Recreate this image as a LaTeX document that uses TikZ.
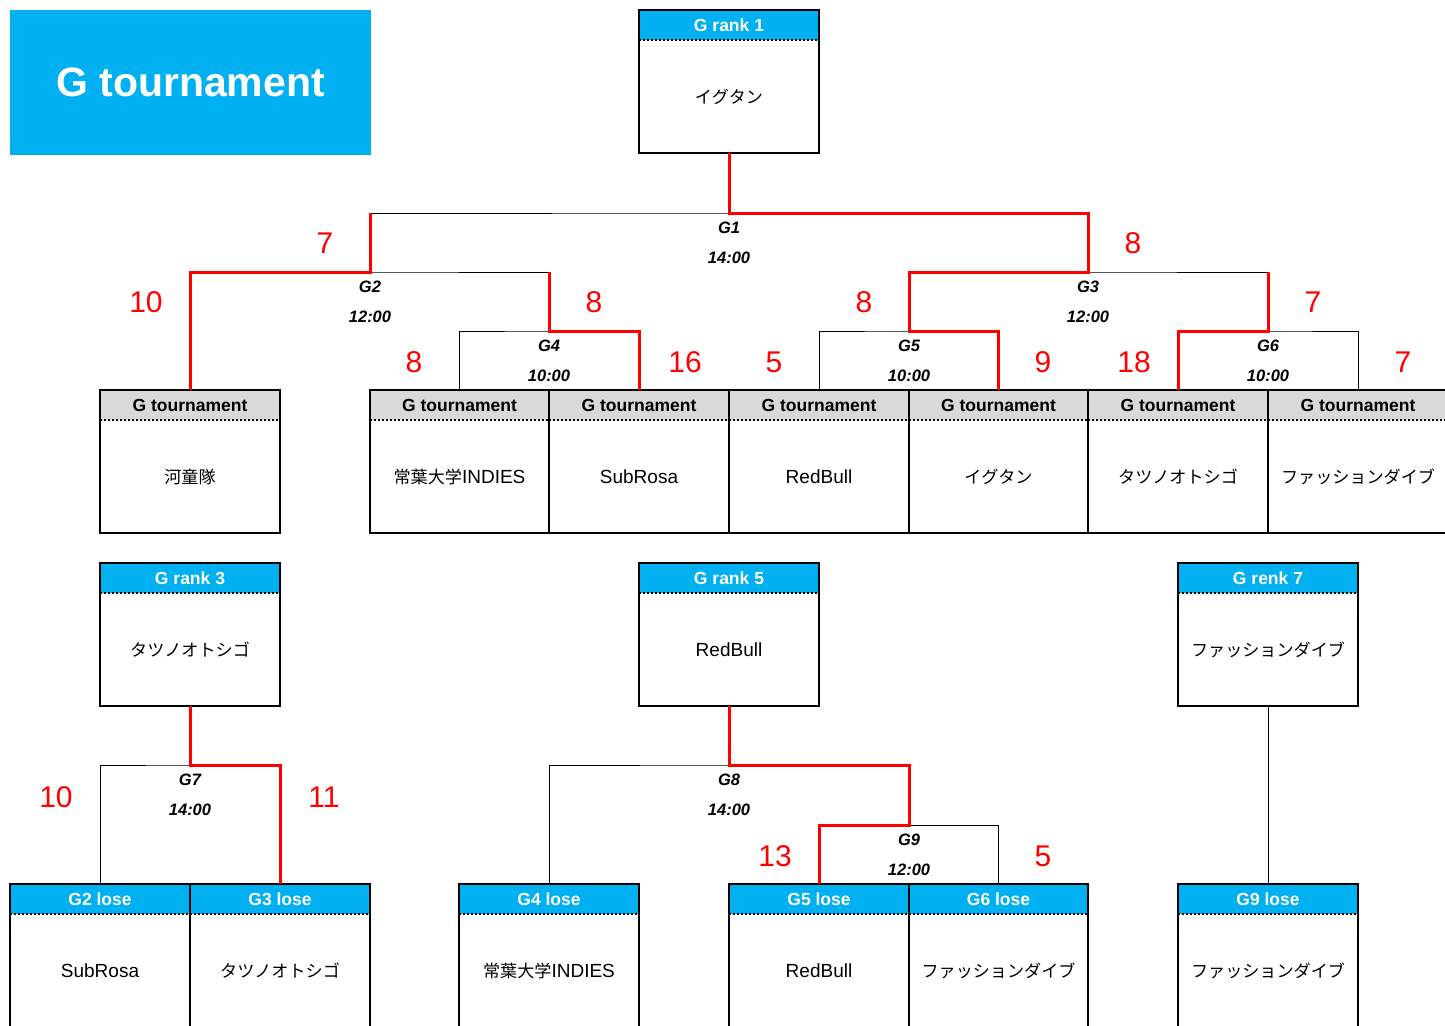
\documentclass[tikz,border=0pt]{standalone}
\usepackage{fontspec}
\setmainfont{Liberation Sans}
\newfontfamily\jp{Noto Sans CJK JP}[Scale=0.9]
\usetikzlibrary{positioning,calc}
\definecolor{barblue}{HTML}{00B0F0}
\definecolor{bargray}{HTML}{D9D9D9}

\tikzset{
  bar/.style={minimum width=179.6pt,minimum height=30pt,inner sep=0pt,outer sep=0pt,anchor=north,font=\fontsize{17.5}{19}\selectfont\bfseries},
  bluebar/.style={bar,fill=barblue,text=white},
  graybar/.style={bar,fill=bargray,text=black},
  tbody/.style={minimum width=179.6pt,minimum height=113pt,inner sep=0pt,outer sep=0pt,font=\fontsize{19}{21}\selectfont},
  boxline/.style={line width=2pt},
  sepline/.style={line width=1.5pt,dash pattern=on 2pt off 2pt},
  lossline/.style={line width=1pt},
  winline/.style={line width=3pt,red},
  gname/.style={font=\fontsize{16.5}{18}\selectfont\bfseries\itshape},
  score/.style={text=red,font=\fontsize{30}{32}\selectfont}
}

% box: name, x, top, bar style, bar text, team
\newcommand{\tbox}[6]{%
  \node[#4] (#1h) at (#2,#3) {#5};
  \node[tbody, below=0pt of #1h] (#1) {#6};
  \draw[boxline] (#1h.north west) rectangle (#1.south east);
  \draw[sepline] (#1h.south west) -- (#1h.south east);
}

\begin{document}
\begin{tikzpicture}[x=1pt,y=-1pt]
  \useasboundingbox (0,0) rectangle (1445,1025);

  \node[fill=barblue,text=white,minimum width=361pt,minimum height=145pt,font=\fontsize{41}{44}\selectfont\bfseries] (title) at (190.5,82.5) {G tournament};

  %%game points%%
  \coordinate (g1) at (729,213);
  \coordinate (g2) at (370,272);
  \coordinate (g3) at (1088,272);
  \coordinate (g4) at (549,331);
  \coordinate (g5) at (909,331);
  \coordinate (g6) at (1268,331);
  \coordinate (g7) at (190,765);
  \coordinate (g8) at (729,765);
  \coordinate (g9) at (909,825);

  %%boxes%%
  \tbox{r1}{729}{10}{bluebar}{G rank 1}{\jp イグタン}

  \tbox{kappa}{190}{390}{graybar}{G tournament}{\jp 河童隊}
  \tbox{tokoha}{459.5}{390}{graybar}{G tournament}{{\jp 常葉大学}INDIES}
  \tbox{subrosa}{639}{390}{graybar}{G tournament}{SubRosa}
  \tbox{redbull}{819}{390}{graybar}{G tournament}{RedBull}
  \tbox{igutan}{998.5}{390}{graybar}{G tournament}{\jp イグタン}
  \tbox{tatsu}{1178}{390}{graybar}{G tournament}{\jp タツノオトシゴ}
  \tbox{fashion}{1358}{390}{graybar}{G tournament}{\jp ファッションダイブ}

  \tbox{r3}{190}{563}{bluebar}{G rank 3}{\jp タツノオトシゴ}
  \tbox{r5}{729}{563}{bluebar}{G rank 5}{RedBull}
  \tbox{r7}{1268}{563}{bluebar}{G renk 7}{\jp ファッションダイブ}

  \tbox{l2}{100}{884}{bluebar}{G2 lose}{SubRosa}
  \tbox{l3}{280}{884}{bluebar}{G3 lose}{\jp タツノオトシゴ}
  \tbox{l4}{549}{884}{bluebar}{G4 lose}{{\jp 常葉大学}INDIES}
  \tbox{l5}{819}{884}{bluebar}{G5 lose}{RedBull}
  \tbox{l6}{998.5}{884}{bluebar}{G6 lose}{\jp ファッションダイブ}
  \tbox{l9}{1268}{884}{bluebar}{G9 lose}{\jp ファッションダイブ}

  %%brackets%%
  \draw[lossline] (g2) |- (g1) -| (g3);
  \draw[lossline] (kappah.north) |- (g2) -| (g4);
  \draw[lossline] (g5) |- (g3) -| (g6);
  \draw[lossline] (tokohah.north) |- (g4) -| (subrosah.north);
  \draw[lossline] (redbullh.north) |- (g5) -| (igutanh.north);
  \draw[lossline] (tatsuh.north) |- (g6) -| (fashionh.north);
  \draw[lossline] (l2h.north) |- (g7) -| (l3h.north);
  \draw[lossline] (l4h.north) |- (g8) -| (g9);
  \draw[lossline] (l5h.north) |- (g9) -| (l6h.north);
  \draw[lossline] (r7.south) -- (l9h.north);

  %%winners%%
  \draw[winline] (igutanh.north) |- (g5) |- (g3) |- (g1) -- (r1.south);
  \draw[winline] (kappah.north) |- (g2) -- (g2 |- g1);
  \draw[winline] (subrosah.north) |- (g4) -- (g4 |- g2);
  \draw[winline] (tatsuh.north) |- (g6) -- (g6 |- g3);
  \draw[winline] (r3.south) -- (g7) -| (l3h.north);
  \draw[winline] (l5h.north) |- (g9) |- (g8) -- (r5.south);

  %%game names%%
  \node[gname] (g1a) at ([yshift=-15pt]g1) {G1};
  \node[gname] (g1b) at ([yshift=-45pt]g1) {14:00};
  \node[gname] (g2a) at ([yshift=-15pt]g2) {G2};
  \node[gname] (g2b) at ([yshift=-45pt]g2) {12:00};
  \node[gname] (g3a) at ([yshift=-15pt]g3) {G3};
  \node[gname] (g3b) at ([yshift=-45pt]g3) {12:00};
  \node[gname] (g4a) at ([yshift=-15pt]g4) {G4};
  \node[gname] (g4b) at ([yshift=-45pt]g4) {10:00};
  \node[gname] (g5a) at ([yshift=-15pt]g5) {G5};
  \node[gname] (g5b) at ([yshift=-45pt]g5) {10:00};
  \node[gname] (g6a) at ([yshift=-15pt]g6) {G6};
  \node[gname] (g6b) at ([yshift=-45pt]g6) {10:00};
  \node[gname] (g7a) at ([yshift=-15pt]g7) {G7};
  \node[gname] (g7b) at ([yshift=-45pt]g7) {14:00};
  \node[gname] (g8a) at ([yshift=-15pt]g8) {G8};
  \node[gname] (g8b) at ([yshift=-45pt]g8) {14:00};
  \node[gname] (g9a) at ([yshift=-15pt]g9) {G9};
  \node[gname] (g9b) at ([yshift=-45pt]g9) {12:00};

  %%scores%%
  \node[score] (s1) at (325,243) {7};
  \node[score] (s2) at (1133,243) {8};
  \node[score] (s3) at (146,302) {10};
  \node[score] (s4) at (594,302) {8};
  \node[score] (s5) at (864,302) {8};
  \node[score] (s6) at (1313,302) {7};
  \node[score] (s7) at (414,362) {8};
  \node[score] (s8) at (685,362) {16};
  \node[score] (s9) at (774,362) {5};
  \node[score] (s10) at (1043,362) {9};
  \node[score] (s11) at (1134,362) {18};
  \node[score] (s12) at (1403,362) {7};
  \node[score] (s13) at (56,797) {10};
  \node[score] (s14) at (324,797) {11};
  \node[score] (s15) at (775,856) {13};
  \node[score] (s16) at (1043,856) {5};
\end{tikzpicture}
\end{document}
